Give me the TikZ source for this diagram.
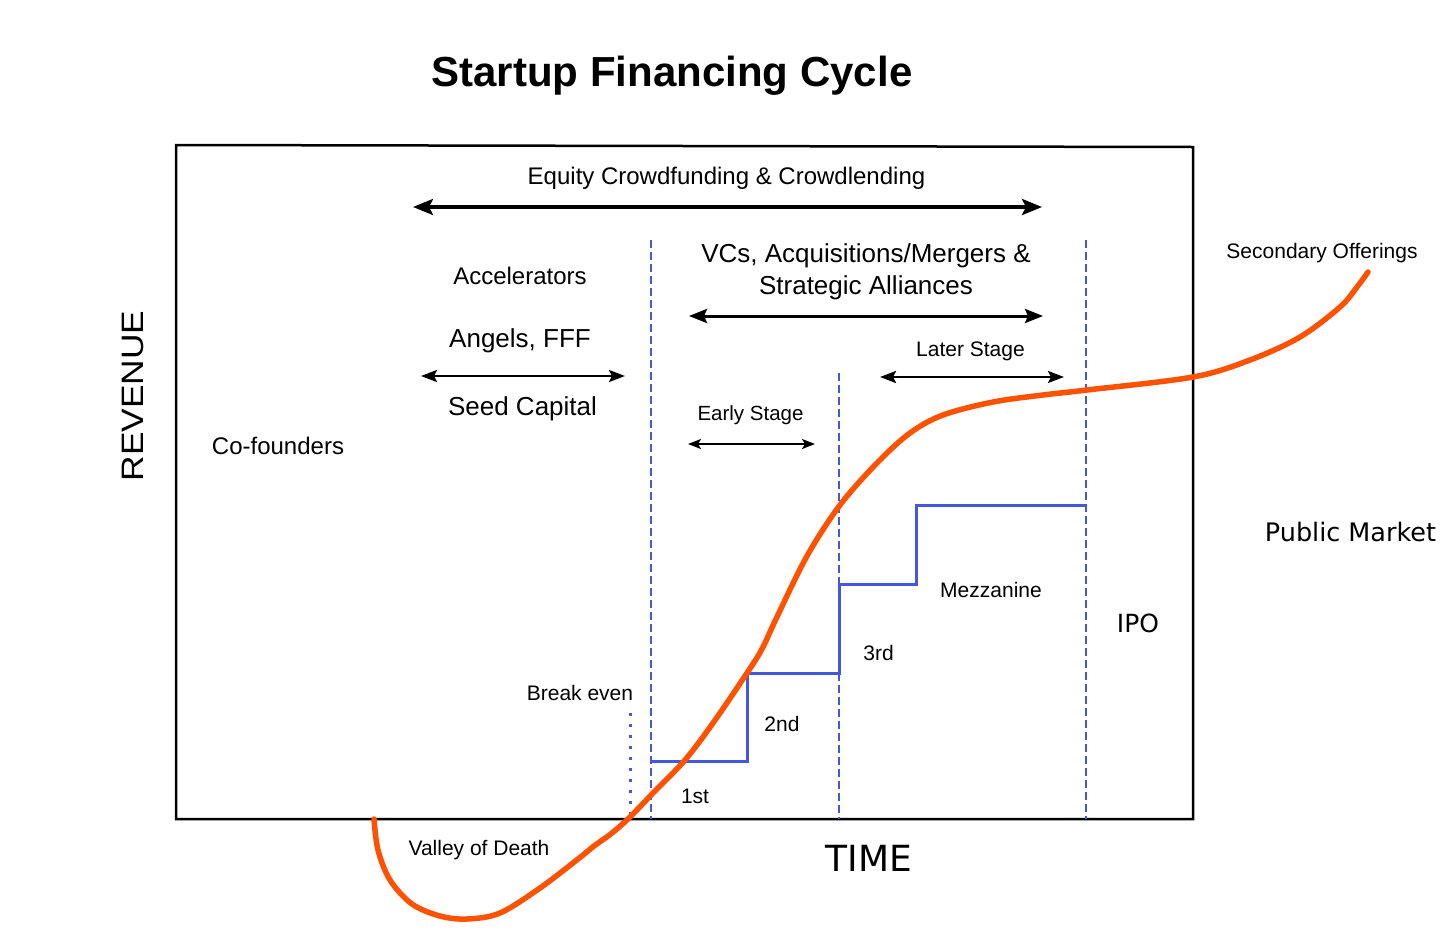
\documentclass[tikz,border=0pt]{standalone}
\usepackage{fontspec}
\setmainfont{Liberation Sans}
\newfontfamily\dejavu{DejaVu Sans}
\usetikzlibrary{arrows.meta}
\newcommand\fsz[1]{\fontsize{#1}{#1}\selectfont}
\definecolor{stepblue}{RGB}{68,88,222}
\definecolor{curveorange}{RGB}{255,82,0}
\tikzset{
  txt/.style={inner sep=0pt, anchor=base, text=black},
  boxline/.style={draw=black, line width=2.5pt, line join=miter},
  vdash/.style={draw=stepblue, line width=2.5pt, dash pattern=on 8pt off 4pt},
  vdot/.style={draw=stepblue, line width=3pt, dash pattern=on 3pt off 8pt},
  stepline/.style={draw=stepblue, line width=3pt},
  curve/.style={draw=curveorange, line width=5.5pt, line cap=round},
  bigarrow/.style={draw=black, line width=3.5pt, {Stealth[length=20pt,width=16pt,inset=4pt]}-{Stealth[length=20pt,width=16pt,inset=4pt]}},
  midarrow/.style={draw=black, line width=3pt, {Stealth[length=18pt,width=14pt,inset=3pt]}-{Stealth[length=18pt,width=14pt,inset=3pt]}},
  smallarrow/.style={draw=black, line width=2.5pt, {Stealth[length=16pt,width=12pt,inset=3pt]}-{Stealth[length=16pt,width=12pt,inset=3pt]}},
  tinyarrow/.style={draw=black, line width=2pt, {Stealth[length=13pt,width=10pt,inset=3pt]}-{Stealth[length=13pt,width=10pt,inset=3pt]}},
}
\begin{document}
\begin{tikzpicture}[x=1pt,y=-1pt]
\useasboundingbox[fill=white] (0,0) rectangle (1456,932);

% frame
\coordinate (bTL) at (176,145);
\coordinate (bTR) at (1193,147);
\coordinate (bBR) at (1193,819);
\coordinate (bBL) at (176,819);
\draw[boxline] (bTL) -- (bTR) -- (bBR) -- (bBL) -- cycle;

% dashed stage lines
\coordinate (d1t) at (651,240); \coordinate (d1b) at (651,819);
\coordinate (d2t) at (839,373); \coordinate (d2b) at (839,819);
\coordinate (d3t) at (1086,240); \coordinate (d3b) at (1086,819);
\draw[vdash] (d1t) -- (d1b);
\draw[vdash] (d2t) -- (d2b);
\draw[vdash] (d3t) -- (d3b);
% break even dotted line
\coordinate (bet) at (630,713); \coordinate (beb) at (630,819);
\draw[vdot] (bet) -- (beb);

% funding steps
\draw[stepline] (651,761) -- (747,761) -- (747,673) -- (839,673) -- (839,584) -- (916,584) -- (916,505) -- (1086,505);

% arrows
\coordinate (eqL) at (413,207); \coordinate (eqR) at (1042,207);
\draw[bigarrow] (eqL) -- (eqR);
\coordinate (sdL) at (421,376); \coordinate (sdR) at (625,376);
\draw[smallarrow] (sdL) -- (sdR);
\coordinate (vcL) at (689,316); \coordinate (vcR) at (1043,316);
\draw[midarrow] (vcL) -- (vcR);
\coordinate (esL) at (688,444); \coordinate (esR) at (815,444);
\draw[tinyarrow] (esL) -- (esR);
\coordinate (lsL) at (880,377); \coordinate (lsR) at (1064,377);
\draw[smallarrow] (lsL) -- (lsR);

% texts
\node[txt, font=\bfseries\fsz{42}] (title) at (672,86) {Startup Financing Cycle};
\node[txt, font=\fsz{24}] (equity) at (726.5,184) {Equity Crowdfunding \& Crowdlending};
\node[txt, font=\fsz{24}] (accel) at (520,284) {Accelerators};
\node[txt, font=\fsz{26}] (angels) at (520,347) {Angels, FFF};
\node[txt, font=\fsz{26}] (seed) at (522.5,415) {Seed Capital};
\node[txt, font=\fsz{24}] (cofound) at (278,454) {Co-founders};
\node[txt, font=\fsz{31}, rotate=90] (revenue) at (143,396) {\scalebox{1.14}[1]{REVENUE}};
\node[txt, font=\fsz{26}] (vc1) at (866,262.3) {VCs, Acquisitions/Mergers \&};
\node[txt, font=\fsz{26}] (vc2) at (866,294.3) {Strategic Alliances};
\node[txt, font=\fsz{21}] (later) at (970.5,356.7) {Later Stage};
\node[txt, font=\fsz{20.5}] (early) at (750.5,420.7) {Early Stage};
\node[txt, font=\fsz{21}] (second) at (1322,258.3) {Secondary Offerings};
\node[txt, font=\dejavu\fsz{25.5}] (public) at (1350.5,541.7) {Public Market};
\node[txt, font=\dejavu\fsz{25}] (ipo) at (1138,632.7) {IPO};
\node[txt, font=\fsz{21}] (mezz) at (991,597.3) {Mezzanine};
\node[txt, font=\fsz{21}] (third) at (878.5,660) {3rd};
\node[txt, font=\fsz{21}] (secondr) at (782,731.7) {2nd};
\node[txt, font=\fsz{21}] (first) at (695,803.3) {1st};
\node[txt, font=\fsz{21}] (breakeven) at (580,700) {Break even};
\node[txt, font=\fsz{21}] (valley) at (479,855.7) {Valley of Death};
\node[txt, font=\dejavu\fsz{36}] (time) at (869,871.7) {TIME};

% revenue curve
\draw[curve] plot[smooth, tension=0.55] coordinates {
  (374,819) (378,850) (390,880) (412,904) (440,916) (467,919) (500,913)
  (540,888) (578,859) (594,846) (612,833) (630,817) (653,793) (685,760)
  (713,723) (747,673) (762,649) (776,619) (807,556) (840,505) (877,463)
  (910,433) (943,415) (993,402) (1043,395) (1087,390) (1193,377)
  (1250,360) (1300,337) (1340,307) (1357,287) (1368,272)};
\end{tikzpicture}
\end{document}
